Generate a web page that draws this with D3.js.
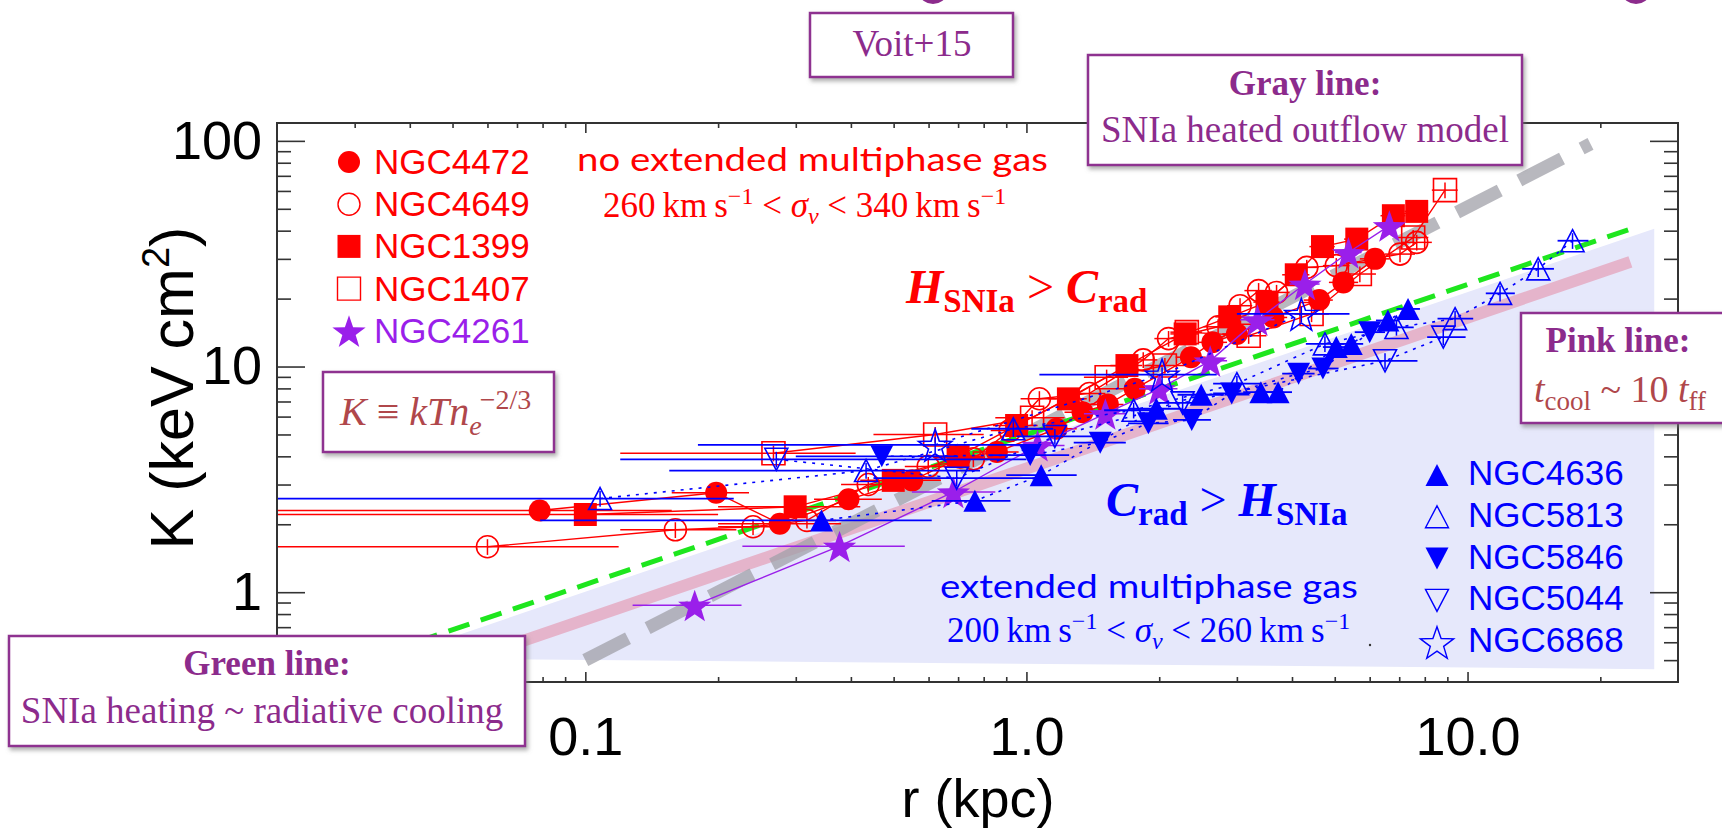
<!DOCTYPE html>
<html>
<head>
<meta charset="utf-8">
<script src="https://cdn.jsdelivr.net/npm/d3@7/dist/d3.min.js"></script>
<style>
  body { margin: 0; background: #fff; }
  svg { display: block; }
  .sans { font-family: "Liberation Sans", Arial, Helvetica, sans-serif; }
  .serif { font-family: "Liberation Serif", "Times New Roman", serif; }
  .geo { font-family: Lato, "Open Sans", sans-serif; }
</style>
</head>
<body>
<script>
// each point: [r (kpc), K (keV cm^2), r low, r high]
var ngc4472 = [[0.0788,2.30,0.005,0.157],[0.198,2.76,0.157,0.235],[0.276,2.01,0.20,0.38],[0.395,2.58,0.33,0.47],
  [0.551,3.13,0.47,0.64],[0.707,3.94,0.62,0.80],[0.857,4.18,0.76,0.96],[1.17,5.30,1.05,1.30],[1.34,6.28,1.22,1.46],
  [1.53,6.79,1.40,1.66],[1.76,7.97,1.62,1.90],[2.36,11.0,2.18,2.55],[2.64,12.8,2.45,2.85],[3.0,13.95,2.78,3.22],
  [3.63,16.5,3.35,3.90],[4.61,19.7,4.25,4.95],[5.23,23.6,4.85,5.65],[6.17,30.0,5.70,6.65]];
var ngc4649 = [[0.060,1.59,0.005,0.119],[0.160,1.89,0.12,0.22],[0.240,1.95,0.20,0.29],[0.318,2.08,0.27,0.37],
  [0.438,3.0,0.38,0.50],[0.599,3.61,0.53,0.67],[0.758,3.9,0.68,0.84],[0.918,5.21,0.83,1.01],[1.07,7.2,0.97,1.17],
  [1.39,7.6,1.27,1.51],[1.84,10.7,1.70,1.98],[2.10,13.3,1.95,2.25],[2.72,15.0,2.52,2.92],[3.05,18.6,2.85,3.25],
  [3.36,21.7,3.12,3.60],[3.69,21.3,3.45,3.95],[4.32,27.5,4.05,4.60],[5.04,28.0,4.70,5.40],[7.03,31.5,6.50,7.60],
  [7.67,35.5,7.10,8.30]];
var ngc1399 = [[0.100,2.21,0.005,0.20],[0.299,2.39,0.20,0.42],[0.499,3.13,0.42,0.58],[0.70,4.0,0.60,0.80],
  [0.95,5.48,0.84,1.06],[1.245,7.19,1.12,1.37],[1.69,10.1,1.55,1.83],[2.29,13.95,2.12,2.46],[2.89,16.6,2.68,3.10],
  [3.51,19.3,3.27,3.75],[4.09,25.5,3.80,4.38],[4.69,34.0,4.38,5.00],[5.61,36.7,5.25,5.97],[6.79,46.6,6.35,7.23],
  [7.67,48.7,7.20,8.15]];
var ngc1407 = [[0.267,4.13,0.12,0.41],[0.621,5.0,0.45,0.80],[1.03,5.93,0.85,1.22],[1.52,8.97,1.35,1.70],
  [2.06,10.1,1.85,2.28],[2.31,14.2,2.12,2.50],[3.19,13.7,2.90,3.50],[4.43,17.1,4.05,4.85],[5.70,25.7,5.25,6.20],
  [7.53,37.3,6.95,8.15],[8.89,60.5,8.3,9.5]];
var ngc4261 = [[0.177,0.876,0.128,0.226],[0.377,1.60,0.227,0.53],[0.683,2.78,0.55,0.85],[1.06,4.47,0.92,1.22],
  [1.51,6.18,1.35,1.68],[2.0,7.97,1.80,2.20],[2.61,10.6,2.38,2.85],[3.34,16.1,3.05,3.65],[4.28,23.2,3.95,4.62],
  [5.37,32.0,5.0,5.75],[6.65,42.1,6.25,7.05]];
var ngc4636 = [[0.343,2.08,0.079,0.61],[0.764,2.54,0.61,0.92],[1.08,3.3,0.90,1.30],[1.97,6.5,1.70,2.25],
  [2.49,7.5,2.20,2.80],[3.40,7.7,3.10,3.72],[3.72,7.7,3.45,4.0],[5.04,12.2,4.70,5.40],[5.45,12.6,5.10,5.80],
  [6.6,16.0,6.20,7.00],[7.33,18.0,6.90,7.80]];
var ngc5813 = [[0.108,2.60,0.005,0.217],[0.433,3.46,0.155,0.785],[0.934,5.3,0.75,1.15],[1.75,6.4,1.50,2.05],
  [3.0,8.4,2.65,3.40],[4.75,12.6,4.30,5.25],[6.9,14.9,6.30,7.55],[9.37,16.3,8.55,10.3],[11.85,21.1,11.0,12.8],
  [14.46,27.1,13.3,15.7],[17.3,36.1,16.0,18.8]];
var ngc5846 = [[0.47,4.0,0.30,0.70],[1.02,4.05,0.82,1.25],[1.47,4.6,1.28,1.68],[1.89,5.6,1.70,2.10],
  [2.37,5.8,2.15,2.62],[2.92,7.6,2.65,3.22],[4.14,9.3,3.80,4.50],[4.7,9.8,4.35,5.10],[6.0,14.2,5.55,6.50]];
var ngc5044 = [[0.271,3.88,0.12,1.0],[0.695,3.2,0.45,1.05],[1.16,4.9,0.95,1.42],[2.26,6.9,1.95,2.62],
  [6.5,10.6,5.3,7.7],[8.81,13.5,8.1,9.9]];
var ngc6868 = [[0.621,4.5,0.18,1.0],[2.03,9.2,1.07,2.7],[4.20,17.1,3.0,5.4]];

// model lines, endpoints: [r, K]
var greenLine = [[0.025,0.43],[23.7,41]];
var pinkLine = [[0.04,0.41],[23.4,29.1]];
var grayLine = [[0.1,0.5],[19,97]];
var shadeRegion = [[0.035,0.50],[26.5,40.8],[26.5,0.456],[0.035,0.51]];

var xMajor = [0.1, 1, 10], xLabels = ["0.1", "1.0", "10.0"];
var xMinor = [0.03,0.04,0.05,0.06,0.07,0.08,0.09,0.2,0.3,0.4,0.5,0.6,0.7,0.8,0.9,2,3,4,5,6,7,8,9,20];
var yMajor = [1, 10, 100], yLabels = ["1", "10", "100"];
var yMinor = [0.5,0.6,0.7,0.8,0.9,2,3,4,5,6,7,8,9,20,30,40,50,60,70,80,90];

var RED = "#ff0000", BLUE = "#0000ff", VIOLET = "#9a1fea", PLUM = "#8c2b8c", BRICK = "#b0474b";

var series = [
  {name: "NGC4472", data: ngc4472, sym: "circle", fill: true, color: RED, dash: null},
  {name: "NGC4649", data: ngc4649, sym: "circle", fill: false, color: RED, dash: null},
  {name: "NGC1399", data: ngc1399, sym: "square", fill: true, color: RED, dash: null},
  {name: "NGC1407", data: ngc1407, sym: "square", fill: false, color: RED, dash: null},
  {name: "NGC4261", data: ngc4261, sym: "star", fill: true, color: VIOLET, dash: null},
  {name: "NGC4636", data: ngc4636, sym: "up", fill: true, color: BLUE, dash: "3,6"},
  {name: "NGC5813", data: ngc5813, sym: "up", fill: false, color: BLUE, dash: "3,6"},
  {name: "NGC5846", data: ngc5846, sym: "down", fill: true, color: BLUE, dash: "3,6"},
  {name: "NGC5044", data: ngc5044, sym: "down", fill: false, color: BLUE, dash: "3,6"},
  {name: "NGC6868", data: ngc6868, sym: "star", fill: false, color: BLUE, dash: "3,6"}
];

var width = 1722, height = 828;
var svg = d3.select("body").append("svg")
  .attr("width", width)
  .attr("height", height);

var x = d3.scaleLog().domain([0.02, 30]).range([277, 1678]);
var y = d3.scaleLog().domain([0.4, 120]).range([682, 123]);

var defs = svg.append("defs");
defs.append("clipPath").attr("id", "plotclip")
  .append("rect").attr("x", 277).attr("y", 123).attr("width", 1401).attr("height", 559);
var shadow = defs.append("filter").attr("id", "shadow")
  .attr("x", "-5%").attr("y", "-5%").attr("width", "115%").attr("height", "130%");
shadow.append("feDropShadow").attr("dx", 2).attr("dy", 3).attr("stdDeviation", 2)
  .attr("flood-color", "#777").attr("flood-opacity", 0.6);

function symbolPath(sym) {
  if (sym == "circle") return d3.symbol(d3.symbolCircle, Math.PI * 11 * 11)();
  if (sym == "square") return "M-11.5,-11.5h23v23h-23Z";
  if (sym == "up") return "M0,-11L11.5,11L-11.5,11Z";
  if (sym == "down") return "M0,11L11.5,-11L-11.5,-11Z";
  // five point star
  var pts = [];
  for (var i = 0; i < 10; i++) {
    var a = -Math.PI / 2 + i * Math.PI / 5, rr = i % 2 ? 7 : 17.5;
    pts.push([rr * Math.cos(a), rr * Math.sin(a) + 2]);
  }
  return "M" + pts.join("L") + "Z";
}

var pxLine = d3.line().x(function(d) { return x(d[0]); }).y(function(d) { return y(d[1]); });

// shaded region and model lines
var plot = svg.append("g").attr("clip-path", "url(#plotclip)");
plot.append("path").attr("d", pxLine(shadeRegion) + "Z").attr("fill", "#e6e8fb");
plot.append("path").attr("d", pxLine(pinkLine))
  .attr("stroke", "#e5b4cb").attr("stroke-width", 12).attr("fill", "none");
plot.append("path").attr("d", pxLine(grayLine))
  .attr("stroke", "#a0a0a8").attr("stroke-opacity", 0.75).attr("stroke-width", 13)
  .attr("stroke-dasharray", "48,22").attr("fill", "none");
plot.append("path").attr("d", pxLine(greenLine))
  .attr("stroke", "#1ee61e").attr("stroke-width", 5)
  .attr("stroke-dasharray", "22,12").attr("fill", "none");

// data: connecting line, error bars and symbols for each galaxy
series.forEach(function(s) {
  var g = plot.append("g").attr("class", "series");
  g.append("path").attr("d", pxLine(s.data))
    .attr("fill", "none").attr("stroke", s.color)
    .attr("stroke-width", s.dash ? 1.6 : 1.4)
    .attr("stroke-dasharray", s.dash);
  g.selectAll("line.xerr").data(s.data).enter().append("line")
    .attr("x1", function(d) { return x(d[2]); })
    .attr("x2", function(d) { return x(d[3]); })
    .attr("y1", function(d) { return y(d[1]); })
    .attr("y2", function(d) { return y(d[1]); })
    .attr("stroke", s.color).attr("stroke-width", s.color == BLUE ? 1.8 : 1.5);
  g.selectAll("line.yerr").data(s.data).enter().append("line")
    .attr("x1", function(d) { return x(d[0]); })
    .attr("x2", function(d) { return x(d[0]); })
    .attr("y1", function(d) { return y(d[1] * 0.92); })
    .attr("y2", function(d) { return y(d[1] * 1.08); })
    .attr("stroke", s.color).attr("stroke-width", 1.5);
  g.selectAll("path.mark").data(s.data).enter().append("path")
    .attr("class", "mark")
    .attr("transform", function(d) { return "translate(" + x(d[0]) + "," + y(d[1]) + ")"; })
    .attr("d", symbolPath(s.sym))
    .attr("fill", s.fill ? s.color : "none")
    .attr("stroke", s.color).attr("stroke-width", s.fill ? 0 : 1.6);
});

// axes
function styleAxis(g) {
  g.select(".domain").remove();
  g.selectAll(".tick line").attr("stroke", "#333").attr("stroke-width", 1.6);
  g.selectAll(".tick text").attr("class", "sans").attr("font-size", 54).attr("fill", "#000");
}
svg.append("g").attr("transform", "translate(0,682)")
  .call(d3.axisBottom(x).tickValues(xMajor).tickSize(-10).tickPadding(35)
    .tickFormat(function(d, i) { return xLabels[i]; }))
  .call(styleAxis);
svg.append("g").attr("transform", "translate(0,682)")
  .call(d3.axisBottom(x).tickValues(xMinor).tickSize(-5).tickFormat("")).call(styleAxis);
svg.append("g").attr("transform", "translate(0,123)")
  .call(d3.axisTop(x).tickValues(xMajor).tickSize(-10).tickFormat("")).call(styleAxis);
svg.append("g").attr("transform", "translate(0,123)")
  .call(d3.axisTop(x).tickValues(xMinor).tickSize(-5).tickFormat("")).call(styleAxis);
svg.append("g").attr("transform", "translate(277,0)")
  .call(d3.axisLeft(y).tickValues(yMajor).tickSize(-28).tickPadding(15)
    .tickFormat(function(d, i) { return yLabels[i]; }))
  .call(styleAxis);
svg.append("g").attr("transform", "translate(277,0)")
  .call(d3.axisLeft(y).tickValues(yMinor).tickSize(-14).tickFormat("")).call(styleAxis);
svg.append("g").attr("transform", "translate(1678,0)")
  .call(d3.axisRight(y).tickValues(yMajor).tickSize(-28).tickFormat("")).call(styleAxis);
svg.append("g").attr("transform", "translate(1678,0)")
  .call(d3.axisRight(y).tickValues(yMinor).tickSize(-14).tickFormat("")).call(styleAxis);
svg.append("rect").attr("x", 277).attr("y", 123).attr("width", 1401).attr("height", 559)
  .attr("fill", "none").attr("stroke", "#333").attr("stroke-width", 2);

// axis titles
svg.append("text").attr("class", "sans").attr("font-size", 54)
  .attr("x", 978).attr("y", 817).attr("text-anchor", "middle").text("r (kpc)");
var yt = svg.append("text").attr("class", "sans").attr("font-size", 61)
  .attr("transform", "translate(193,388) rotate(-90)").attr("text-anchor", "middle");
yt.append("tspan").text("K (keV cm");
yt.append("tspan").attr("font-size", 38).attr("dy", -24).text("2");
yt.append("tspan").attr("dy", 24).text(")");

// legends
var legendRed = [
  {name: "NGC4472", sym: "circle", fill: true, color: RED},
  {name: "NGC4649", sym: "circle", fill: false, color: RED},
  {name: "NGC1399", sym: "square", fill: true, color: RED},
  {name: "NGC1407", sym: "square", fill: false, color: RED},
  {name: "NGC4261", sym: "star", fill: true, color: VIOLET}
];
var legendBlue = [
  {name: "NGC4636", sym: "up", fill: true, color: BLUE},
  {name: "NGC5813", sym: "up", fill: false, color: BLUE},
  {name: "NGC5846", sym: "down", fill: true, color: BLUE},
  {name: "NGC5044", sym: "down", fill: false, color: BLUE},
  {name: "NGC6868", sym: "star", fill: false, color: BLUE}
];
function drawLegend(items, mx, tx, y0, step, off) {
  var lg = svg.append("g").selectAll("g").data(items).enter().append("g")
    .attr("transform", function(d, i) { return "translate(0," + (y0 + i * step) + ")"; });
  lg.append("path")
    .attr("transform", "translate(" + mx + "," + (-off) + ")")
    .attr("d", function(d) { return symbolPath(d.sym); })
    .attr("fill", function(d) { return d.fill ? d.color : "none"; })
    .attr("stroke", function(d) { return d.color; })
    .attr("stroke-width", function(d) { return d.fill ? 0 : 1.4; });
  lg.append("text").attr("class", "sans").attr("font-size", 35)
    .attr("x", tx).attr("fill", function(d) { return d.color; })
    .text(function(d) { return d.name; });
}
drawLegend(legendRed, 349, 374, 174, 42.2, 12);
drawLegend(legendBlue, 1437, 1468, 485, 41.8, 10);

// regime labels
function velocityText(x0, y0, lo, hi, color) {
  var t = svg.append("text").attr("class", "serif").attr("font-size", 35)
    .attr("x", x0).attr("y", y0).attr("fill", color);
  t.append("tspan").text(lo + "\u2009km\u2009s");
  t.append("tspan").attr("font-size", 24).attr("dy", -13).text("\u22121");
  t.append("tspan").attr("dy", 13).text(" < ");
  t.append("tspan").attr("font-style", "italic").text("\u03c3");
  t.append("tspan").attr("font-style", "italic").attr("font-size", 24).attr("dy", 7).text("v");
  t.append("tspan").attr("dy", -7).text(" < " + hi + "\u2009km\u2009s");
  t.append("tspan").attr("font-size", 24).attr("dy", -13).text("\u22121");
}
function balanceText(x0, y0, a, aSub, b, bSub, color) {
  var t = svg.append("text").attr("class", "serif").attr("font-size", 48)
    .attr("x", x0).attr("y", y0).attr("fill", color).attr("font-weight", "bold");
  t.append("tspan").attr("font-style", "italic").text(a);
  t.append("tspan").attr("font-size", 33).attr("dy", 9).text(aSub);
  t.append("tspan").attr("dy", -9).attr("font-weight", "normal").text(" > ");
  t.append("tspan").attr("font-style", "italic").text(b);
  t.append("tspan").attr("font-size", 33).attr("dy", 9).text(bSub);
}
svg.append("text").attr("class", "geo").attr("font-size", 33).attr("fill", RED)
  .attr("x", 577).attr("y", 171).attr("textLength", 471).attr("lengthAdjust", "spacingAndGlyphs")
  .text("no extended multiphase gas");
velocityText(603, 217, "260", "340", RED);
balanceText(906, 303, "H", "SNIa", "C", "rad", RED);
balanceText(1106, 516, "C", "rad", "H", "SNIa", BLUE);
svg.append("text").attr("class", "geo").attr("font-size", 33).attr("fill", BLUE)
  .attr("x", 940).attr("y", 598).attr("textLength", 418).attr("lengthAdjust", "spacingAndGlyphs")
  .text("extended multiphase gas");
velocityText(947, 642, "200", "260", BLUE);
svg.append("circle").attr("cx", 1370).attr("cy", 645).attr("r", 1.2).attr("fill", "#333");

// boxed notes
function noteBox(x0, y0, x1, y1) {
  svg.append("rect").attr("x", x0).attr("y", y0).attr("width", x1 - x0).attr("height", y1 - y0)
    .attr("fill", "#fff").attr("stroke", "#8e3190").attr("stroke-width", 2.5)
    .attr("filter", "url(#shadow)");
}
function noteLine(cx, cy, txt, opts) {
  var t = svg.append("text").attr("class", "serif").attr("font-size", 37)
    .attr("x", cx).attr("y", cy).attr("text-anchor", "middle").attr("fill", PLUM);
  if (opts && opts.bold) t.attr("font-weight", "bold").attr("font-size", 35);
  t.text(txt);
  return t;
}

// cut-off glyphs from the slide title above
svg.append("ellipse").attr("cx", 933).attr("cy", -6).attr("rx", 13).attr("ry", 10).attr("fill", PLUM);
svg.append("ellipse").attr("cx", 1636).attr("cy", -6).attr("rx", 13).attr("ry", 10).attr("fill", PLUM);

noteBox(810, 13, 1013, 77);
noteLine(912, 56, "Voit+15");

noteBox(1088, 55, 1522, 165);
noteLine(1305, 95, "Gray line:", {bold: true});
noteLine(1305, 142, "SNIa heated outflow model");

noteBox(1521, 313, 1740, 423);
noteLine(1618, 352, "Pink line:", {bold: true});
var tc = svg.append("text").attr("class", "serif").attr("font-size", 38).attr("fill", BRICK)
  .attr("x", 1620).attr("y", 402).attr("text-anchor", "middle");
tc.append("tspan").attr("font-style", "italic").text("t");
tc.append("tspan").attr("font-size", 27).attr("dy", 8).text("cool");
tc.append("tspan").attr("dy", -8).text(" ~ 10 ");
tc.append("tspan").attr("font-style", "italic").text("t");
tc.append("tspan").attr("font-size", 27).attr("dy", 8).text("ff");

noteBox(323, 372, 554, 452);
var kt = svg.append("text").attr("class", "serif").attr("font-size", 40).attr("fill", BRICK)
  .attr("x", 340).attr("y", 425).attr("font-style", "italic");
kt.append("tspan").text("K ");
kt.append("tspan").attr("font-style", "normal").text("\u2261");
kt.append("tspan").text(" kTn");
kt.append("tspan").attr("font-size", 28).attr("dy", 10).text("e");
kt.append("tspan").attr("font-size", 28).attr("font-style", "normal").attr("dx", -2).attr("dy", -26).text("\u22122/3");

noteBox(9, 636, 525, 746);
noteLine(267, 675, "Green line:", {bold: true});
noteLine(262, 723, "SNIa heating ~ radiative cooling");
</script>
</body>
</html>
